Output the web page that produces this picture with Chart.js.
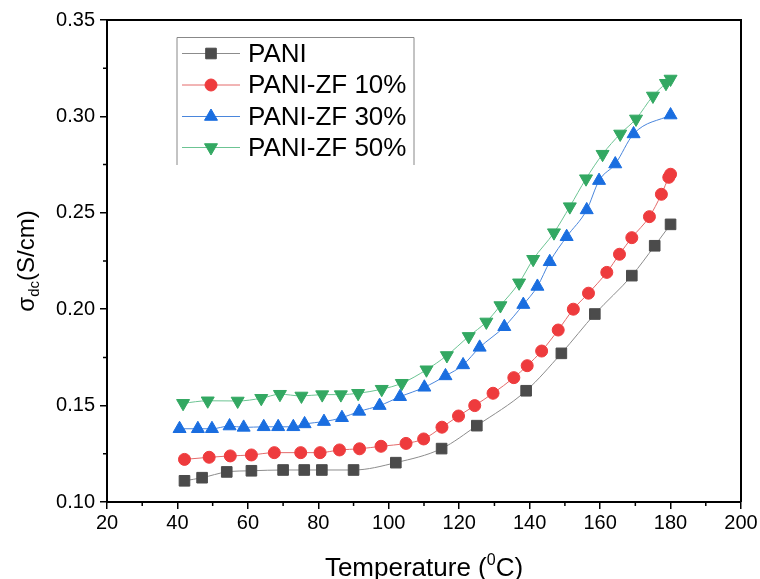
<!DOCTYPE html>
<html>
<head>
<meta charset="utf-8">
<script src="https://cdn.jsdelivr.net/npm/chart.js@4.4.1/dist/chart.umd.min.js"></script>
<style>
  html, body { margin: 0; padding: 0; background: #fff; }
  #wrap { width: 760px; height: 579px; }
</style>
</head>
<body>
<div id="wrap"><canvas id="cond"></canvas></div>
<script>
// Temperature (°C) and dc conductivity (S/cm)
const T_PANI   = [42, 47, 54, 61, 70, 76, 81, 90, 102, 115, 125, 139, 149, 158.5, 169, 175.5, 180];
const S_PANI   = [0.111, 0.1126, 0.1156, 0.1162, 0.1166, 0.1166, 0.1166, 0.1166, 0.1204, 0.1277, 0.1396,
                  0.1577, 0.1771, 0.1975, 0.2174, 0.2329, 0.244];

const T_ZF10   = [42, 49, 55, 61, 67.5, 75, 80.5, 86, 91.7, 97.8, 104.9, 109.9, 115.1, 119.8, 124.4, 129.6,
                  135.5, 139.3, 143.4, 148.1, 152.4, 156.7, 161.9, 165.5, 169, 174, 177.4, 179.5, 180];
const S_ZF10   = [0.1221, 0.1232, 0.1239, 0.1244, 0.1256, 0.1256, 0.1256, 0.127, 0.1276, 0.1289, 0.1304,
                  0.1327, 0.1388, 0.1446, 0.15, 0.1564, 0.1645, 0.1707, 0.1783, 0.1892, 0.2, 0.2083,
                  0.2191, 0.2285, 0.2371, 0.248, 0.2596, 0.2684, 0.27];

const T_ZF30   = [40.6, 45.8, 49.8, 54.8, 58.8, 64.5, 68.6, 72.9, 76.1, 81.6, 86.7, 91.6, 97.4, 103.2, 110.1,
                  116.1, 121.1, 125.8, 132.8, 138.2, 142.2, 145.7, 150.5, 156.2, 159.7, 164.3, 169.5, 180];
const S_ZF30   = [0.138, 0.138, 0.138, 0.1394, 0.1387, 0.139, 0.139, 0.139, 0.1405, 0.1417, 0.1437, 0.147,
                  0.150, 0.1546, 0.1595, 0.1654, 0.1711, 0.1802, 0.1909, 0.2024, 0.2118, 0.2246, 0.2376,
                  0.2515, 0.2667, 0.2753, 0.2909, 0.3007];

const T_ZF50   = [41.6, 48.6, 57.1, 63.8, 69.1, 75.2, 81.1, 86.4, 91.3, 98, 103.7, 110.7, 116.5, 122.7, 127.7,
                  131.7, 137, 141, 146.9, 151.4, 156, 160.7, 165.7, 170.2, 175, 178.7, 180];
const S_ZF50   = [0.1512, 0.1525, 0.1524, 0.1538, 0.1559, 0.155, 0.1557, 0.1557, 0.1564, 0.1585, 0.1616,
                  0.1686, 0.176, 0.1859, 0.1934, 0.2019, 0.2137, 0.2259, 0.2397, 0.2532, 0.2677, 0.2804,
                  0.2909, 0.2987, 0.3106, 0.3172, 0.3194];

const SERIES_NAMES = ['PANI', 'PANI-ZF 10%', 'PANI-ZF 30%', 'PANI-ZF 50%'];
const X_TICKS = [20, 40, 60, 80, 100, 120, 140, 160, 180, 200];
const Y_TICKS = [0.10, 0.15, 0.20, 0.25, 0.30, 0.35];

const FONT = '"Liberation Sans", Arial, sans-serif';

const STYLES = [
  { fill: '#4b4b4b', line: '#8c8c8c', shape: 'rect',     radius: 7.5, rot: 0 },
  { fill: '#ee3b3d', line: '#e46a6a', shape: 'circle',   radius: 6,   rot: 0 },
  { fill: '#1a6ee0', line: '#4a86dc', shape: 'triangle', radius: 7.5, rot: 0 },
  { fill: '#33a862', line: '#6cc493', shape: 'triangle', radius: 7.5, rot: 180 },
];

function pts(xs, ys) {
  return xs.map((x, i) => ({ x: x, y: ys[i] }));
}

const seriesData = [pts(T_PANI, S_PANI), pts(T_ZF10, S_ZF10), pts(T_ZF30, S_ZF30), pts(T_ZF50, S_ZF50)];

function marker(ctx, st, x, y) {
  ctx.fillStyle = st.fill;
  ctx.strokeStyle = st.fill;
  Chart.helpers.drawPoint(ctx, { pointStyle: st.shape, radius: st.radius, rotation: st.rot, borderWidth: 1 }, x, y);
}

// frame, minor ticks, axis titles with sub/superscripts, inset legend
const decor = {
  id: 'decor',
  afterDraw(chart) {
    const ctx = chart.ctx;
    const a = chart.chartArea;
    const xs = chart.scales.x, ys = chart.scales.y;
    ctx.save();

    // top and right frame
    ctx.strokeStyle = '#000';
    ctx.lineWidth = 2;
    ctx.beginPath();
    ctx.moveTo(a.left, a.top); ctx.lineTo(a.right, a.top); ctx.lineTo(a.right, a.bottom);
    ctx.stroke();

    // minor ticks
    ctx.lineWidth = 1.5;
    ctx.beginPath();
    for (let v = 30; v < 200; v += 20) {
      const px = xs.getPixelForValue(v);
      ctx.moveTo(px, a.bottom); ctx.lineTo(px, a.bottom + 4);
    }
    for (let v = 0.125; v < 0.35; v += 0.05) {
      const py = ys.getPixelForValue(v);
      ctx.moveTo(a.left, py); ctx.lineTo(a.left - 4, py);
    }
    ctx.stroke();

    // x title: Temperature (⁰C)
    ctx.fillStyle = '#000';
    ctx.textBaseline = 'alphabetic';
    ctx.textAlign = 'left';
    let big = '26px ' + FONT, small = '16px ' + FONT;
    ctx.font = big;
    const p1 = 'Temperature (', p3 = 'C)';
    const w1 = ctx.measureText(p1).width, w3 = ctx.measureText(p3).width;
    ctx.font = small;
    const w2 = ctx.measureText('0').width;
    let x0 = (a.left + a.right) / 2 - (w1 + w2 + w3) / 2;
    const by = 576;
    ctx.font = big; ctx.fillText(p1, x0, by);
    ctx.font = small; ctx.fillText('0', x0 + w1, by - 11);
    ctx.font = big; ctx.fillText(p3, x0 + w1 + w2, by);

    // y title: σdc(S/cm)
    big = '24px ' + FONT; small = '15px ' + FONT;
    ctx.save();
    ctx.translate(34, (a.top + a.bottom) / 2);
    ctx.rotate(-Math.PI / 2);
    ctx.font = big;
    const q1 = 'σ', q3 = '(S/cm)';
    const v1 = ctx.measureText(q1).width, v3 = ctx.measureText(q3).width;
    ctx.font = small;
    const v2 = ctx.measureText('dc').width;
    x0 = -(v1 + v2 + v3) / 2;
    ctx.font = big; ctx.fillText(q1, x0, 0);
    ctx.font = small; ctx.fillText('dc', x0 + v1, 5);
    ctx.font = big; ctx.fillText(q3, x0 + v1 + v2, 0);
    ctx.restore();

    // legend
    ctx.strokeStyle = '#888';
    ctx.lineWidth = 1;
    ctx.beginPath();
    ctx.moveTo(177, 165); ctx.lineTo(177, 37.5); ctx.lineTo(414, 37.5); ctx.lineTo(414, 165);
    ctx.stroke();
    const rows = [53.5, 85, 116.5, 147.5];
    ctx.textBaseline = 'middle';
    SERIES_NAMES.forEach((name, i) => {
      const st = STYLES[i], y = rows[i];
      ctx.strokeStyle = st.line;
      ctx.lineWidth = 1;
      ctx.beginPath(); ctx.moveTo(182, y); ctx.lineTo(240, y); ctx.stroke();
      marker(ctx, st, 211, y);
      ctx.fillStyle = '#000';
      ctx.font = '26px ' + FONT;
      ctx.fillText(name, 248, y + 1);
    });

    ctx.restore();
  }
};

new Chart(document.getElementById('cond'), {
  type: 'scatter',
  data: {
    datasets: SERIES_NAMES.map((name, i) => ({
      label: name,
      data: seriesData[i],
      showLine: true,
      cubicInterpolationMode: 'monotone',
      borderColor: STYLES[i].line,
      borderWidth: 1,
      pointStyle: STYLES[i].shape,
      pointRotation: STYLES[i].rot,
      pointRadius: STYLES[i].radius,
      pointBackgroundColor: STYLES[i].fill,
      pointBorderColor: STYLES[i].fill,
      pointBorderWidth: 1,
    }))
  },
  options: {
    responsive: true,
    maintainAspectRatio: false,
    animation: false,
    layout: { padding: { left: 0, right: 19, top: 20, bottom: 0 } },
    plugins: { legend: { display: false }, tooltip: { enabled: false } },
    scales: {
      x: {
        type: 'linear',
        min: 20, max: 200,
        afterBuildTicks: s => { s.ticks = X_TICKS.map(v => ({ value: v })); },
        afterFit: s => { s.height = 77; },
        ticks: { color: '#000', font: { family: FONT, size: 20 }, padding: 2, maxRotation: 0 },
        grid: { display: true, drawOnChartArea: false, drawTicks: true, tickLength: 7, color: '#000', lineWidth: 1.5 },
        border: { display: true, color: '#000', width: 2 },
      },
      y: {
        min: 0.10, max: 0.35,
        afterBuildTicks: s => { s.ticks = Y_TICKS.map(v => ({ value: v })); },
        afterFit: s => { s.width = 107; },
        ticks: { color: '#000', font: { family: FONT, size: 20 }, padding: 5, callback: v => v.toFixed(2) },
        grid: { display: true, drawOnChartArea: false, drawTicks: true, tickLength: 7, color: '#000', lineWidth: 1.5 },
        border: { display: true, color: '#000', width: 2 },
      }
    }
  },
  plugins: [decor]
});
</script>
</body>
</html>
